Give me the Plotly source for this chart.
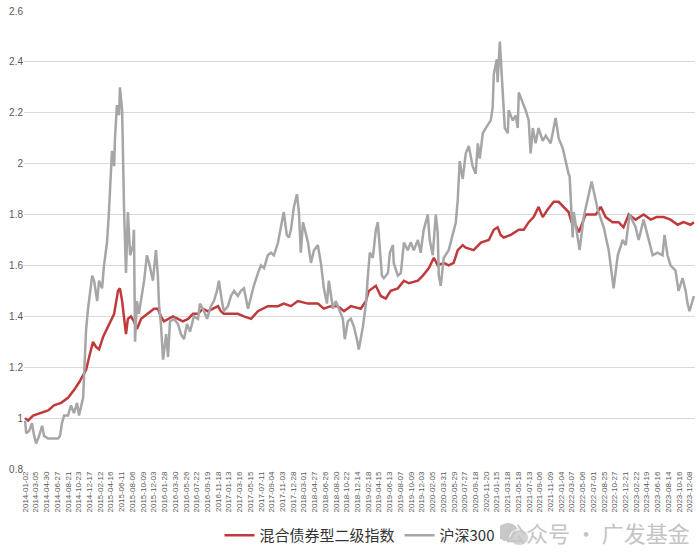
import plotly.graph_objects as go

# Tick labels (every 39 trading days)
tick_labels = [
    "2014-01-02","2014-03-05","2014-04-30","2014-06-27","2014-08-21","2014-10-23","2014-12-17",
    "2015-02-12","2015-04-16","2015-06-11","2015-08-06","2015-10-09","2015-12-03",
    "2016-01-28","2016-03-30","2016-05-26","2016-07-22","2016-09-19","2016-11-18",
    "2017-01-13","2017-03-16","2017-05-15","2017-07-11","2017-09-04","2017-11-03","2017-12-28",
    "2018-03-01","2018-04-27","2018-06-26","2018-08-20","2018-10-22","2018-12-14",
    "2019-02-18","2019-04-15","2019-06-13","2019-08-07","2019-10-09","2019-12-03",
    "2020-02-05","2020-03-31","2020-05-29","2020-07-27","2020-09-18","2020-11-20",
    "2021-01-15","2021-03-18","2021-05-18","2021-07-13","2021-09-06","2021-11-09",
    "2022-01-04","2022-03-07","2022-05-06","2022-07-01","2022-08-25","2022-10-27","2022-12-21",
    "2023-02-22","2023-04-19","2023-06-16","2023-08-14","2023-10-16","2023-12-08",
]
tick_step = 39
last_day = 2433

# 沪深300 (trading-day index, value)
hs300_day = [0,4,15,25,33,40,51,62,69,84,102,120,127,134,142,156,167,178,189,196,211,214,222,229,233,
             244,251,262,269,280,287,298,305,316,324,327,334,342,345,353,360,367,374,382,393,396,400,
             407,414,429,433,443,451,465,476,483,487,494,502,513,520,527,542,556,567,578,589,600,614,
             629,636,651,662,676,687,698,705,716,723,738,749,760,774,785,796,811,822,832,847,858,869,
             883,894,905,920,931,941,952,960,967,978,989,996,1003,1011,1018,1029,1040,1051,1065,1076,
             1087,1098,1105,1120,1130,1141,1156,1163,1174,1185,1196,1207,1214,1229,1240,1247,1254,1265,
             1276,1283,1290,1298,1305,1320,1327,1338,1341,1356,1367,1378,1392,1403,1414,1429,1439,1450,
             1465,1472,1483,1494,1501,1505,1512,1523,1541,1556,1567,1574,1581,1592,1603,1614,1628,1639,
             1647,1654,1665,1676,1694,1701,1705,1716,1719,1727,1734,1741,1745,1756,1759,1774,1785,1792,
             1796,1810,1821,1832,1839,1847,1857,1868,1883,1894,1912,1930,1941,1956,1967,1977,1981,1992,
             1996,2010,2017,2032,2047,2061,2083,2105,2123,2141,2156,2174,2185,2199,2221,2232,2250,2268,
             2283,2301,2319,2326,2337,2348,2366,2377,2392,2403,2410,2417,2428,2433]
hs300_val = [0.99,0.94,0.95,0.98,0.93,0.90,0.93,0.97,0.93,0.92,0.92,0.92,0.93,0.98,1.01,1.01,1.05,1.02,1.06,1.01,1.08,1.17,1.35,1.43,1.46,
             1.56,1.54,1.46,1.54,1.51,1.60,1.69,1.81,2.05,1.99,2.10,2.23,2.19,2.30,2.21,1.82,1.57,1.81,1.64,1.68,1.74,1.30,
             1.46,1.41,1.51,1.54,1.64,1.61,1.54,1.66,1.56,1.45,1.37,1.23,1.33,1.24,1.38,1.39,1.37,1.33,1.31,1.37,1.34,1.40,
             1.39,1.45,1.42,1.39,1.44,1.46,1.50,1.54,1.46,1.42,1.44,1.48,1.50,1.48,1.50,1.51,1.43,1.48,1.52,1.57,1.60,1.59,
             1.64,1.65,1.64,1.69,1.75,1.81,1.72,1.71,1.74,1.83,1.88,1.81,1.65,1.77,1.74,1.69,1.61,1.66,1.68,1.61,
             1.51,1.45,1.54,1.43,1.46,1.43,1.39,1.31,1.38,1.39,1.36,1.31,1.27,1.36,1.45,1.56,1.65,1.63,
             1.74,1.77,1.66,1.56,1.55,1.57,1.65,1.68,1.61,1.56,1.57,1.69,1.66,1.69,1.66,1.70,1.65,1.74,
             1.80,1.70,1.64,1.80,1.73,1.56,1.52,1.63,1.66,1.72,1.77,1.86,2.01,1.94,2.04,2.07,1.99,1.96,
             2.08,2.02,2.12,2.14,2.17,2.22,2.35,2.41,2.32,2.48,2.36,2.23,2.14,2.12,2.21,2.17,2.19,2.14,
             2.28,2.24,2.21,2.17,2.04,2.14,2.08,2.14,2.09,2.11,2.08,2.18,2.10,2.06,2.00,1.96,1.95,1.71,
             1.81,1.70,1.66,1.79,1.86,1.93,1.82,1.75,1.66,1.51,1.64,1.70,1.68,1.80,1.75,1.70,1.78,1.70,
             1.64,1.65,1.64,1.72,1.64,1.60,1.58,1.50,1.55,1.50,1.45,1.42,1.47,1.48]

# 混合债券型二级指数 (trading-day index, value)
bond_day = [0,11,29,58,84,105,131,156,178,196,211,222,233,247,258,269,284,298,313,324,338,345,353,360,367,
            374,385,396,407,422,447,469,483,494,505,520,538,556,574,593,611,629,647,665,683,702,712,723,
            749,774,796,822,847,883,920,941,967,992,1029,1065,1087,1112,1138,1160,1185,1221,1240,1250,
            1276,1294,1312,1330,1356,1378,1396,1429,1447,1469,1487,1501,1523,1541,1559,1574,1592,1603,
            1632,1658,1687,1705,1719,1730,1741,1767,1796,1814,1832,1850,1868,1883,1901,1923,1941,1959,
            1977,1988,2003,2014,2039,2058,2076,2094,2112,2137,2159,2177,2196,2221,2250,2276,2297,2323,
            2348,2374,2395,2421,2433]
bond_val = [1.00,0.99,1.01,1.02,1.03,1.05,1.06,1.08,1.11,1.14,1.17,1.19,1.24,1.30,1.28,1.27,1.32,1.35,1.38,1.41,1.50,1.51,1.46,1.38,1.33,
            1.39,1.40,1.38,1.35,1.39,1.41,1.43,1.43,1.40,1.38,1.39,1.40,1.39,1.38,1.39,1.41,1.41,1.43,1.42,1.43,1.44,1.42,1.41,
            1.41,1.41,1.40,1.39,1.42,1.44,1.44,1.45,1.44,1.46,1.45,1.45,1.43,1.44,1.44,1.42,1.44,1.43,1.46,1.50,
            1.52,1.48,1.47,1.50,1.51,1.54,1.53,1.54,1.56,1.59,1.63,1.60,1.61,1.60,1.61,1.66,1.68,1.67,
            1.66,1.69,1.70,1.74,1.75,1.72,1.71,1.72,1.74,1.74,1.77,1.79,1.83,1.79,1.82,1.85,1.85,1.83,
            1.81,1.77,1.76,1.73,1.80,1.80,1.80,1.83,1.79,1.77,1.77,1.75,1.80,1.78,1.80,1.78,1.79,1.79,
            1.78,1.76,1.77,1.76,1.77]

fig = go.Figure()
fig.add_trace(go.Scatter(x=bond_day, y=bond_val, mode="lines", name="混合债券型二级指数",
                         line=dict(color="#C0393B", width=2.5)))
fig.add_trace(go.Scatter(x=hs300_day, y=hs300_val, mode="lines", name="沪深300",
                         line=dict(color="#A6A6A6", width=2.5)))

tickvals = [i * tick_step for i in range(len(tick_labels))]

fig.update_layout(
    width=700, height=557,
    margin=dict(l=24, r=5, t=8, b=83),
    paper_bgcolor="white", plot_bgcolor="white",
    font=dict(family="Liberation Sans, Arial, sans-serif", color="#595959"),
    showlegend=True,
    legend=dict(orientation="h", x=0.5, xanchor="center", y=-0.145, yanchor="middle",
                font=dict(size=15, color="#333333", family="Noto Sans CJK SC"),
                itemwidth=30, tracegroupgap=0),
    xaxis=dict(range=[-4, last_day + 4], tickmode="array", tickvals=tickvals, ticktext=tick_labels,
               tickangle=-90, tickfont=dict(size=8, color="#595959"), showgrid=False,
               showline=False, zeroline=False, ticks=""),
    yaxis=dict(range=[0.8, 2.6], dtick=0.2, tickformat="~g", showgrid=True, gridcolor="#D9D9D9",
               gridwidth=1, zeroline=False, showline=False, ticks="",
               tickfont=dict(size=10, color="#595959")),
)

# watermark
fig.add_annotation(text="公众号 · 广发基金", xref="paper", yref="paper", x=0.995, y=-0.137,
                   xanchor="right", yanchor="middle", showarrow=False,
                   font=dict(size=22, color="#C4C4C4", family="Noto Sans CJK SC"))
fig.add_shape(type="circle", xref="paper", yref="paper", x0=0.705, x1=0.737, y0=-0.158, y1=-0.118,
              fillcolor="#C8C8C8", line=dict(width=0), layer="above")
fig.add_shape(type="circle", xref="paper", yref="paper", x0=0.724, x1=0.752, y0=-0.167, y1=-0.132,
              fillcolor="#D2D2D2", line=dict(color="white", width=1), layer="above")

fig.write_html("out.html")
